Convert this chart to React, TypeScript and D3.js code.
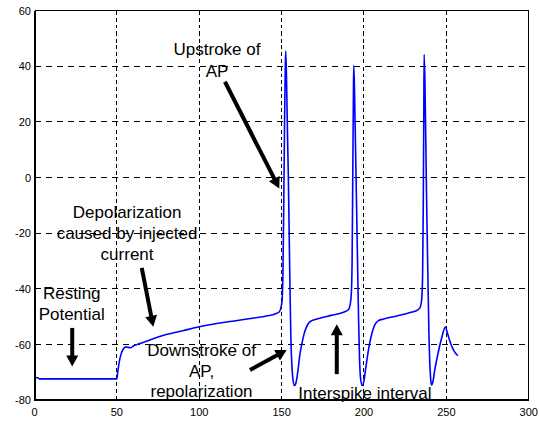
import React from "react";
import * as d3 from "d3";

const xTicks = [0, 50, 100, 150, 200, 250, 300];
const yTicks = [-80, -60, -40, -20, 0, 20, 40, 60];

// membrane potential trace: [time, voltage]
const trace: [number, number][] = [
  [0, -71.8], [2, -71.9], [3, -72.3], [50, -72.3], [50.5, -70], [51.5, -66], [52.5, -63.5],
  [54, -61.5], [55.5, -60.8], [57, -61], [58.5, -61.1], [60, -60.5], [64, -59.6], [70, -58.3],
  [80, -56.4], [90, -55], [100, -53.6], [110, -52.5], [120, -51.6], [130, -50.7], [140, -49.8],
  [146, -49], [148.5, -48.3], [149.5, -47], [150.3, -44], [150.8, -35], [151.3, -10],
  [151.8, 20], [152.2, 38], [152.5, 45.4], [153, 35], [153.6, 15], [154.1, 0], [154.6, -20],
  [155.1, -40], [155.6, -57], [156.2, -67], [156.9, -72.5], [157.8, -74.7], [158.8, -73.5],
  [160, -69], [161, -64], [162.2, -60], [163.5, -56.5], [165, -53.8], [166.5, -52.2],
  [168.3, -51.4], [172, -50.7], [180, -49.5], [188, -48.3], [190.5, -47.5], [191.5, -46],
  [192.3, -42], [192.8, -30], [193.2, 0], [193.6, 30], [193.8, 40.2], [194.3, 30],
  [194.9, 10], [195.5, -10], [196.1, -30], [196.7, -50], [197.3, -65], [198, -72.5],
  [199, -74.7], [200, -73], [201.2, -68], [202.3, -63.5], [203.3, -60], [204.8, -56],
  [206.5, -53], [208.8, -51.4], [212, -50.8], [220, -49.7], [228, -48.5], [233, -47.4],
  [234.2, -46.5], [235, -44], [235.6, -35], [236, -10], [236.3, 20], [236.5, 44.2],
  [237, 35], [237.6, 10], [238.2, -15], [238.8, -35], [239.4, -55], [240, -67], [240.6, -73],
  [241.1, -74.5], [241.8, -73.5], [243, -69], [245, -63], [247, -58], [249.4, -53.7],
  [250.5, -55.5], [252, -58.5], [254, -61.5], [255.5, -63], [257, -64],
];

// annotation labels: center x, baseline y, lines (data coords)
const labels: { x: number; y: number[]; lines: string[] }[] = [
  { x: 110.8, y: [44.0, 36.2], lines: ["Upstroke of", "AP"] },
  { x: 56.2, y: [-14.7, -22.1, -29.6], lines: ["Depolarization", "caused by injected", "current"] },
  { x: 22.6, y: [-43.7, -51.2], lines: ["Resting", "Potential"] },
  { x: 101.4, y: [-64.1, -71.5, -78.7], lines: ["Downstroke of", "AP,", "repolarization"] },
  { x: 200.6, y: [-79.5], lines: ["Interspike interval"] },
];

// arrows: [x1, y1, x2(tip), y2(tip)] in data coords
const arrows: [number, number, number, number][] = [
  [115.6, 34.4, 148.6, -3.9],
  [65.1, -32.4, 72.1, -53.6],
  [22.9, -54.0, 22.9, -67.9],
  [130.8, -69.1, 153.1, -61.9],
  [183.5, -70.6, 183.5, -52.7],
];

export default function App() {
  const W = 539, H = 421;
  const x = d3.scaleLinear().domain([0, 300]).range([34.5, 528.7]);
  const y = d3.scaleLinear().domain([-80, 60]).range([400.3, 10.5]);
  const line = d3
    .line<[number, number]>()
    .x((d) => x(d[0]))
    .y((d) => y(d[1]))
    .curve(d3.curveMonotoneX);
  const font = "'Liberation Sans', Arial, sans-serif";

  const arrowEls = arrows.map(([ax1, ay1, ax2, ay2], i) => {
    const x1 = x(ax1), y1 = y(ay1), x2 = x(ax2), y2 = y(ay2);
    const dx = x2 - x1, dy = y2 - y1;
    const len = Math.hypot(dx, dy);
    const ux = dx / len, uy = dy / len;
    const hl = 11, hw = 6;
    const bx = x2 - ux * hl, by = y2 - uy * hl;
    const px = -uy, py = ux;
    const pts = [
      [x2, y2],
      [bx + px * hw, by + py * hw],
      [bx - px * hw, by - py * hw],
    ]
      .map((p) => p.join(","))
      .join(" ");
    return (
      <g key={i}>
        <line x1={x1} y1={y1} x2={bx + ux * 2} y2={by + uy * 2} stroke="#000" strokeWidth={4} />
        <polygon points={pts} fill="#000" />
      </g>
    );
  });

  return (
    <svg
      width={W}
      height={H}
      style={{ position: "absolute", left: 0, top: 0, background: "#fff" }}
    >
      <rect x={0} y={0} width={W} height={H} fill="#fff" />
      {/* grid */}
      <g shapeRendering="crispEdges">
        {xTicks.slice(1, -1).map((t) => (
          <line key={"gx" + t} x1={x(t)} x2={x(t)} y1={y(60)} y2={y(-80)} stroke="#000" strokeWidth={1} strokeDasharray="4,3" />
        ))}
        {yTicks.slice(1, -1).map((t) => (
          <line key={"gy" + t} x1={x(0)} x2={x(300)} y1={y(t)} y2={y(t)} stroke="#000" strokeWidth={1} strokeDasharray="6.5,4.5" />
        ))}
      </g>
      {/* trace */}
      <path d={line(trace) || ""} fill="none" stroke="#0000ff" strokeWidth={1.6} />
      {/* frame */}
      <g shapeRendering="crispEdges">
        <line x1={x(0)} x2={x(300)} y1={y(60)} y2={y(60)} stroke="#000" strokeWidth={1} />
        <line x1={x(300)} x2={x(300)} y1={y(60)} y2={y(-80)} stroke="#000" strokeWidth={1.5} />
        <line x1={x(0)} x2={x(0)} y1={y(60)} y2={y(-80) + 1} stroke="#000" strokeWidth={2} />
        <line x1={x(0) - 1} x2={x(300)} y1={y(-80)} y2={y(-80)} stroke="#000" strokeWidth={2} />
      </g>
      {/* tick labels */}
      <g fontFamily={font} fontSize={11} fill="#000">
        {yTicks.map((t) => (
          <text key={"yl" + t} x={x(0) - 3.5} y={y(t) + 4} textAnchor="end">
            {t}
          </text>
        ))}
        {xTicks.map((t) => (
          <text key={"xl" + t} x={x(t)} y={y(-80) + 16} textAnchor="middle">
            {t}
          </text>
        ))}
      </g>
      {/* annotations */}
      <g fontFamily={font} fontSize={17} fill="#000" textAnchor="middle">
        {labels.map((l, i) =>
          l.lines.map((s, j) => (
            <text key={i + "-" + j} x={x(l.x)} y={y(l.y[j])}>
              {s}
            </text>
          ))
        )}
      </g>
      {arrowEls}
    </svg>
  );
}
